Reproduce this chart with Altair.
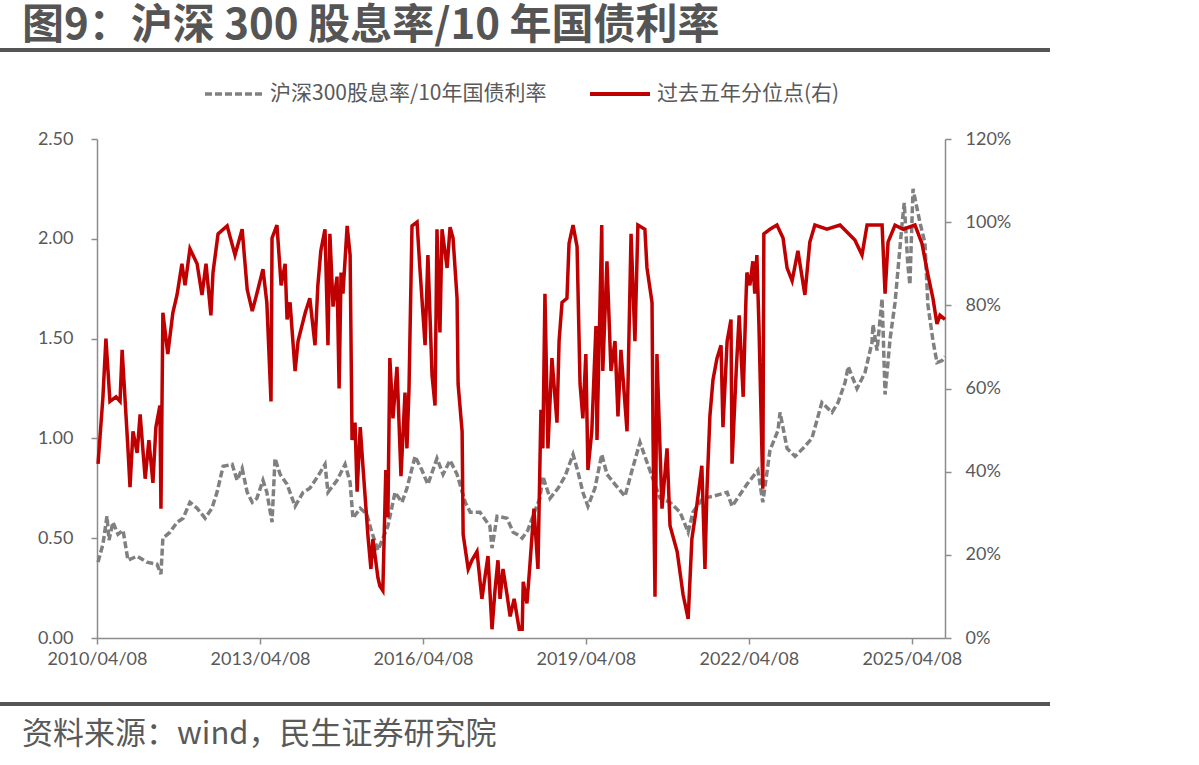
import altair as alt
import pandas as pd

# 沪深300股息率/10年国债利率 (left axis)
ratio_dates = [
    "2010-04-15", "2010-05-18", "2010-06-14", "2010-06-28", "2010-07-24", "2010-08-27",
    "2010-09-30", "2010-11-02", "2011-01-03", "2011-03-09", "2011-05-16", "2011-06-12",
    "2011-06-25", "2011-08-12", "2011-09-28", "2011-11-08", "2011-12-24", "2012-02-10",
    "2012-04-04", "2012-05-20", "2012-06-23", "2012-08-03", "2012-10-03", "2012-11-05",
    "2012-12-09", "2013-01-12", "2013-02-15", "2013-03-18", "2013-04-28", "2013-05-24",
    "2013-06-28", "2013-07-18", "2013-08-21", "2013-10-07", "2013-11-30", "2014-01-23",
    "2014-03-09", "2014-05-02", "2014-06-19", "2014-07-09", "2014-09-08", "2014-11-01",
    "2014-12-05", "2014-12-24", "2015-02-11", "2015-03-27", "2015-04-30", "2015-06-10",
    "2015-08-16", "2015-10-03", "2015-11-19", "2015-12-22", "2016-02-15", "2016-04-01",
    "2016-05-11", "2016-07-11", "2016-08-21", "2016-10-07", "2016-11-23", "2017-01-17",
    "2017-02-20", "2017-04-26", "2017-07-02", "2017-07-16", "2017-08-19", "2017-10-25",
    "2017-12-05", "2018-01-21", "2018-02-04", "2018-03-14", "2018-04-17", "2018-06-03",
    "2018-06-23", "2018-08-10", "2018-10-03", "2018-11-19", "2019-01-12", "2019-02-15",
    "2019-03-19", "2019-04-22", "2019-06-08", "2019-07-24", "2019-08-28", "2019-10-21",
    "2019-12-27", "2020-02-20", "2020-04-06", "2020-05-09", "2020-06-26", "2020-08-19",
    "2020-10-25", "2021-01-01", "2021-02-24", "2021-03-28", "2021-06-03", "2021-08-10",
    "2021-11-13", "2021-12-16", "2022-03-26", "2022-06-08", "2022-07-11", "2022-08-28",
    "2022-10-21", "2022-11-04", "2022-12-21", "2023-02-13", "2023-04-07", "2023-06-06",
    "2023-08-12", "2023-10-19", "2023-11-29", "2024-01-15", "2024-02-05", "2024-04-04",
    "2024-05-28", "2024-07-14", "2024-07-21", "2024-08-17", "2024-09-20", "2024-10-10",
    "2024-11-13", "2024-12-16", "2025-02-02", "2025-02-16", "2025-03-12", "2025-03-26",
    "2025-04-16", "2025-06-02", "2025-07-05", "2025-07-25", "2025-08-28", "2025-09-24",
    "2025-10-28", "2025-11-17",
]
ratio_values = [
    0.38, 0.47, 0.61, 0.49, 0.58, 0.52,
    0.54, 0.39, 0.41, 0.38, 0.37, 0.32,
    0.50, 0.53, 0.58, 0.60, 0.68, 0.65,
    0.60, 0.65, 0.73, 0.86, 0.87, 0.79,
    0.85, 0.73, 0.68, 0.70, 0.79, 0.73,
    0.58, 0.90, 0.82, 0.77, 0.66, 0.73,
    0.75, 0.81, 0.87, 0.73, 0.79, 0.87,
    0.78, 0.60, 0.65, 0.62, 0.53, 0.44,
    0.56, 0.73, 0.68, 0.75, 0.91, 0.84,
    0.77, 0.90, 0.82, 0.89, 0.82, 0.68,
    0.63, 0.63, 0.56, 0.45, 0.61, 0.60,
    0.53, 0.51, 0.50, 0.54, 0.61, 0.70,
    0.81, 0.70, 0.75, 0.81, 0.92, 0.83,
    0.73, 0.66, 0.75, 0.92, 0.82, 0.77,
    0.71, 0.86, 0.98, 0.91, 0.81, 0.70,
    0.68, 0.63, 0.53, 0.63, 0.70, 0.71,
    0.73, 0.66, 0.77, 0.84, 0.68, 0.94,
    1.04, 1.13, 0.95, 0.91, 0.95, 1.00,
    1.18, 1.13, 1.18, 1.28, 1.36, 1.25,
    1.33, 1.48, 1.57, 1.44, 1.70, 1.22,
    1.50, 1.68, 2.08, 2.18, 1.87, 1.77,
    2.25, 2.08, 1.98, 1.67, 1.49, 1.38,
    1.39, 1.41,
]

# 过去五年分位点 (right axis, %)
pct_dates = [
    "2010-04-15", "2010-05-18", "2010-06-07", "2010-07-04", "2010-08-14", "2010-09-10",
    "2010-09-24", "2010-11-02", "2010-11-16", "2010-12-06", "2011-01-03", "2011-01-23",
    "2011-02-26", "2011-03-23", "2011-04-19", "2011-05-09", "2011-06-05", "2011-06-12",
    "2011-06-25", "2011-07-28", "2011-08-31", "2011-09-28", "2011-10-31", "2011-11-21",
    "2011-12-24", "2012-02-10", "2012-03-14", "2012-04-10", "2012-05-13", "2012-05-27",
    "2012-06-30", "2012-08-30", "2012-10-22", "2012-12-09", "2013-01-12", "2013-02-15",
    "2013-03-25", "2013-04-28", "2013-05-24", "2013-06-21", "2013-06-28", "2013-07-31",
    "2013-08-28", "2013-09-24", "2013-10-07", "2013-10-27", "2013-11-30", "2013-12-20",
    "2014-02-06", "2014-03-09", "2014-04-13", "2014-05-02", "2014-05-22", "2014-06-19",
    "2014-07-09", "2014-07-22", "2014-08-12", "2014-09-08", "2014-09-22", "2014-10-05",
    "2014-10-18", "2014-11-15", "2014-12-05", "2014-12-18", "2015-01-07", "2015-01-21",
    "2015-02-11", "2015-03-01", "2015-04-04", "2015-04-24", "2015-05-07", "2015-06-10",
    "2015-06-23", "2015-07-13", "2015-08-02", "2015-08-16", "2015-08-29", "2015-09-19",
    "2015-10-16", "2015-11-12", "2015-12-09", "2015-12-22", "2016-01-05", "2016-01-25",
    "2016-02-28", "2016-03-18", "2016-04-22", "2016-05-11", "2016-06-08", "2016-06-28",
    "2016-07-11", "2016-07-31", "2016-08-14", "2016-09-17", "2016-10-07", "2016-10-27",
    "2016-11-23", "2016-11-30", "2016-12-27", "2017-01-03", "2017-02-06", "2017-03-03",
    "2017-04-06", "2017-05-09", "2017-05-29", "2017-06-19", "2017-07-16", "2017-08-05",
    "2017-08-25", "2017-09-08", "2017-09-28", "2017-10-25", "2017-11-15", "2017-12-12",
    "2018-01-15", "2018-02-04", "2018-02-11", "2018-03-08", "2018-03-28", "2018-04-24",
    "2018-05-21", "2018-06-10", "2018-06-23", "2018-07-07", "2018-07-27", "2018-08-23",
    "2018-09-26", "2018-10-10", "2018-10-30", "2018-12-02", "2018-12-16", "2019-01-12",
    "2019-02-08", "2019-02-28", "2019-03-19", "2019-04-08", "2019-04-22", "2019-05-18",
    "2019-06-15", "2019-06-22", "2019-07-24", "2019-07-31", "2019-08-28", "2019-09-24",
    "2019-10-21", "2019-11-10", "2019-11-30", "2020-01-10", "2020-02-06", "2020-03-03",
    "2020-03-23", "2020-05-09", "2020-05-23", "2020-06-26", "2020-07-03", "2020-07-16",
    "2020-07-29", "2020-09-01", "2020-10-05", "2020-10-25", "2020-12-12", "2021-01-21",
    "2021-02-24", "2021-03-21", "2021-04-24", "2021-05-27", "2021-06-17", "2021-06-30",
    "2021-07-20", "2021-08-10", "2021-09-06", "2021-10-03", "2021-10-16", "2021-11-13",
    "2021-12-09", "2021-12-16", "2022-01-13", "2022-02-02", "2022-03-01", "2022-03-19",
    "2022-03-26", "2022-04-15", "2022-05-05", "2022-05-18", "2022-06-01", "2022-06-15",
    "2022-07-11", "2022-07-18", "2022-08-28", "2022-10-14", "2022-11-24", "2022-12-21",
    "2023-01-24", "2023-03-04", "2023-04-20", "2023-05-23", "2023-06-26", "2023-09-15",
    "2023-12-12", "2024-03-21", "2024-05-08", "2024-06-11", "2024-09-20", "2024-10-10",
    "2024-10-30", "2024-12-16", "2025-02-09", "2025-04-29", "2025-06-15", "2025-07-25",
    "2025-08-28", "2025-09-24", "2025-10-14", "2025-11-17",
]
pct_values = [
    41.9, 58.0, 72.0, 56.9, 58.0, 56.9,
    69.3, 45.6, 36.3, 49.7, 44.5, 53.8,
    38.3, 47.6, 37.3, 50.7, 55.9, 31.1,
    78.2, 68.3, 78.2, 82.5, 90.0, 84.8,
    93.6, 90.0, 82.5, 90.0, 77.6, 87.9,
    97.2, 99.1, 92.1, 98.3, 83.8, 78.6,
    83.8, 88.7, 80.7, 56.9, 96.2, 99.3,
    84.8, 90.0, 76.6, 80.7, 64.2, 71.4,
    78.2, 81.7, 70.4, 84.8, 93.1, 98.3,
    70.4, 97.2, 79.7, 86.9, 60.0, 87.9,
    82.8, 99.1, 92.1, 47.6, 51.8, 35.2,
    50.7, 41.4, 24.5, 16.6, 23.8, 14.5,
    12.5, 11.4, 40.4, 29.0, 67.3, 52.8,
    65.2, 38.9, 59.0, 45.6, 60.0, 99.1,
    100.0, 89.0, 70.4, 92.1, 63.1, 55.9,
    98.3, 73.5, 98.3, 89.0, 98.8, 96.2,
    81.7, 61.1, 49.7, 24.9, 16.6, 18.7,
    20.8, 9.4, 14.5, 19.7, 2.1, 11.4,
    18.7, 9.4, 16.6, 10.4, 5.2, 9.4,
    2.1, 2.1, 13.5, 8.3, 17.6, 31.1,
    16.6, 54.9, 45.6, 82.8, 45.6, 67.3,
    51.8, 71.4, 80.7, 81.7, 94.9, 99.3,
    94.1, 61.1, 52.8, 68.3, 40.4, 49.7,
    75.0, 47.6, 99.3, 64.2, 90.6, 64.2,
    71.4, 53.3, 69.3, 49.7, 97.2, 71.4,
    99.3, 98.3, 89.0, 80.7, 47.6, 9.9,
    68.3, 31.1, 45.6, 27.0, 20.8, 10.4,
    4.6, 23.8, 32.1, 41.4, 16.6, 35.2,
    53.3, 62.1, 67.3, 70.4, 50.7, 71.4,
    76.6, 41.9, 64.2, 77.6, 58.0, 80.7,
    87.9, 84.8, 90.6, 82.8, 92.1, 75.0,
    35.9, 97.2, 98.3, 99.3, 96.2, 89.0,
    85.9, 93.1, 82.5, 95.2, 99.3, 98.3,
    99.3, 95.7, 92.1, 99.3, 99.3, 82.8,
    95.2, 99.3, 98.3, 99.3, 94.9, 87.4,
    81.7, 75.5, 77.6, 76.6,
]

left_ticks = [0.0, 0.5, 1.0, 1.5, 2.0, 2.5]
right_ticks = [0, 20, 40, 60, 80, 100, 120]
date_ticks = [(2010, 4, 8), (2013, 4, 8), (2016, 4, 8), (2019, 4, 8), (2022, 4, 8), (2025, 4, 8)]

title_text = "图9：沪深 300 股息率/10 年国债利率"
legend_ratio = "沪深300股息率/10年国债利率"
legend_pct = "过去五年分位点(右)"
source_text = "资料来源：wind，民生证券研究院"

ratio_df = pd.DataFrame({"date": ratio_dates, "value": ratio_values})
pct_df = pd.DataFrame({"date": pct_dates, "pct": pct_values})

CJK = "Noto Sans CJK SC"
NUM = "Lato"
TEXT_GREY = "#595959"
AXIS_GREY = "#8c8c8c"
RED = "#C00000"
GREY = "#808080"

W, H = 848, 499
PAD_L, PAD_T = 97, 139

x_enc = alt.X(
    "date:T",
    scale=alt.Scale(
        type="utc",
        domain=[alt.DateTime(year=2010, month=4, date=8, utc=True),
                alt.DateTime(year=2025, month=11, date=17, utc=True)],
    ),
    axis=alt.Axis(
        values=[alt.DateTime(year=y, month=m, date=d, utc=True) for y, m, d in date_ticks],
        format="%Y/%m/%d",
        title=None,
        grid=False,
        labelFont=NUM,
        labelFontSize=18,
        labelColor=TEXT_GREY,
        labelPadding=6,
        labelOverlap=False,
        labelFlush=False,
        domainColor=AXIS_GREY,
        domainWidth=1.5,
        tickColor=AXIS_GREY,
        tickWidth=1.5,
        tickSize=6,
    ),
)

ratio_line = alt.Chart(ratio_df).mark_line(
    color=GREY, strokeWidth=3.5, strokeDash=[7, 3]
).encode(
    x=x_enc,
    y=alt.Y(
        "value:Q",
        scale=alt.Scale(domain=[0, 2.5], nice=False, zero=False),
        axis=alt.Axis(
            orient="left",
            values=left_ticks,
            format=".2f",
            title=None,
            grid=False,
            labelFont=NUM,
            labelFontSize=18,
            labelColor=TEXT_GREY,
            labelPadding=18,
            domainColor=AXIS_GREY,
            domainWidth=1.5,
            tickColor=AXIS_GREY,
            tickWidth=1.5,
            tickSize=6,
        ),
    ),
)

pct_line = alt.Chart(pct_df).mark_line(color=RED, strokeWidth=3.5).encode(
    x=x_enc,
    y=alt.Y(
        "pct:Q",
        scale=alt.Scale(domain=[0, 120], nice=False, zero=False),
        axis=alt.Axis(
            orient="right",
            values=right_ticks,
            labelExpr="datum.value + '%'",
            title=None,
            grid=False,
            labelFont=NUM,
            labelFontSize=18,
            labelColor=TEXT_GREY,
            labelPadding=14,
            domainColor=AXIS_GREY,
            domainWidth=1.5,
            tickColor=AXIS_GREY,
            tickWidth=1.5,
            tickSize=6,
        ),
    ),
)

one = alt.Data(values=[{"k": 1}])

def px(v, origin):
    return alt.value(v - origin)

title_mark = alt.Chart(one).mark_text(
    text=title_text, font=CJK, fontSize=42, fontWeight="bold",
    color="#555555", align="left", baseline="middle",
).encode(x=px(22, PAD_L), y=px(26, PAD_T))

top_rule = alt.Chart(one).mark_rule(color="#555555", strokeWidth=4).encode(
    x=px(0, PAD_L), x2=px(1050, PAD_L), y=px(50, PAD_T)
)

bottom_rule = alt.Chart(one).mark_rule(color="#555555", strokeWidth=4).encode(
    x=px(0, PAD_L), x2=px(1050, PAD_L), y=px(704, PAD_T)
)

source_mark = alt.Chart(one).mark_text(
    text=source_text, font=CJK, fontSize=31, color=TEXT_GREY,
    align="left", baseline="middle",
).encode(x=px(22, PAD_L), y=px(735, PAD_T))

legend_dash = alt.Chart(one).mark_rule(
    color=GREY, strokeWidth=3.5, strokeDash=[7, 3]
).encode(x=px(205, PAD_L), x2=px(265, PAD_L), y=px(94, PAD_T))

legend_dash_text = alt.Chart(one).mark_text(
    text=legend_ratio, font=CJK, fontSize=21, color=TEXT_GREY,
    align="left", baseline="middle",
).encode(x=px(270, PAD_L), y=px(94, PAD_T))

legend_red = alt.Chart(one).mark_rule(color=RED, strokeWidth=4).encode(
    x=px(590, PAD_L), x2=px(650, PAD_L), y=px(94, PAD_T)
)

legend_red_text = alt.Chart(one).mark_text(
    text=legend_pct, font=CJK, fontSize=21, color=TEXT_GREY,
    align="left", baseline="middle",
).encode(x=px(657, PAD_L), y=px(94, PAD_T))

chart = alt.layer(
    ratio_line, pct_line,
    title_mark, top_rule, bottom_rule, source_mark,
    legend_dash, legend_dash_text, legend_red, legend_red_text,
).resolve_scale(
    y="independent"
).properties(
    width=W,
    height=H,
    autosize=alt.AutoSizeParams(type="none"),
    padding={"left": PAD_L, "top": PAD_T, "right": 1199 - PAD_L - W, "bottom": 765 - PAD_T - H},
    background="white",
).configure_view(strokeWidth=0)

chart.save("out.html", embed_options={"renderer": "svg", "actions": False})
